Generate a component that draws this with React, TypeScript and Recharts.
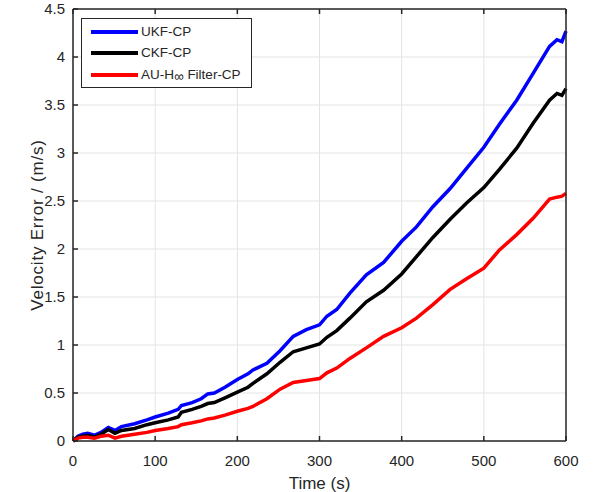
import { LineChart, Line, XAxis, YAxis, CartesianGrid, Legend, Label } from 'recharts';

// time stamps (s)
const times = [
  0, 6, 12, 18, 26, 34, 43, 51, 59, 75, 90, 100, 116, 128, 132, 145, 156, 164, 172, 185,
  200, 213, 219, 236, 252, 268, 284, 300, 309, 321, 337, 357, 378, 400, 418, 438, 459, 479,
  500, 519, 540, 560, 580, 589, 595, 600,
];

const ukfCp = [
  0, 0.05, 0.07, 0.08, 0.06, 0.09, 0.14, 0.11, 0.15, 0.18, 0.22, 0.25, 0.29, 0.33, 0.37, 0.4, 0.44, 0.49, 0.5, 0.56,
  0.64, 0.7, 0.74, 0.81, 0.94, 1.09, 1.16, 1.21, 1.3, 1.37, 1.54, 1.73, 1.86, 2.08, 2.23, 2.44, 2.63, 2.84,
  3.06, 3.3, 3.55, 3.83, 4.11, 4.18, 4.16, 4.27,
];

const ckfCp = [
  0, 0.04, 0.05, 0.06, 0.04, 0.07, 0.12, 0.08, 0.11, 0.13, 0.17, 0.19, 0.22, 0.25, 0.3, 0.33, 0.36, 0.39, 0.4, 0.45,
  0.51, 0.56, 0.6, 0.7, 0.82, 0.93, 0.97, 1.01, 1.08, 1.15, 1.28, 1.45, 1.57, 1.74, 1.92, 2.12, 2.31, 2.48,
  2.64, 2.83, 3.05, 3.31, 3.55, 3.62, 3.6, 3.67,
];

const auhCp = [
  0, 0.03, 0.04, 0.04, 0.03, 0.05, 0.06, 0.03, 0.05, 0.07, 0.09, 0.11, 0.13, 0.15, 0.17, 0.19, 0.21, 0.23, 0.24, 0.27,
  0.31, 0.34, 0.36, 0.44, 0.54, 0.61, 0.63, 0.65, 0.71, 0.76, 0.86, 0.97, 1.09, 1.18, 1.28, 1.42, 1.58, 1.69,
  1.8, 1.99, 2.15, 2.32, 2.52, 2.54, 2.55, 2.58,
];

const xTicks = [0, 100, 200, 300, 400, 500, 600];
const yTicks = [0, 0.5, 1, 1.5, 2, 2.5, 3, 3.5, 4, 4.5];

const series = [
  { key: 'ukf', name: 'UKF-CP', color: '#0000ff' },
  { key: 'ckf', name: 'CKF-CP', color: '#000000' },
  { key: 'auh', name: 'AU-H∞ Filter-CP', color: '#ff0000' },
];

const data = times.map((t, i) => ({ t, ukf: ukfCp[i], ckf: ckfCp[i], auh: auhCp[i] }));

const FONT = '"Liberation Sans", Arial, sans-serif';
const INK = '#262626';
const TICK = 5;

const BottomTick = ({ x, y, payload }: any) => (
  <g>
    <line x1={x} x2={x} y1={y - 14} y2={y - 14 - TICK} stroke={INK} strokeWidth={1.5} />
    <text x={x} y={y} dy="0.71em" textAnchor="middle" fill={INK} fontSize={15} fontFamily={FONT}>
      {payload.value}
    </text>
  </g>
);

const TopTick = ({ x, y }: any) => (
  <line x1={x} x2={x} y1={y} y2={y + TICK} stroke={INK} strokeWidth={1.5} />
);

const LeftTick = ({ x, y, payload }: any) => (
  <g>
    <line x1={x + 8} x2={x + 8 + TICK} y1={y} y2={y} stroke={INK} strokeWidth={1.5} />
    <text x={x} y={y} dy="0.35em" textAnchor="end" fill={INK} fontSize={15} fontFamily={FONT}>
      {payload.value}
    </text>
  </g>
);

const RightTick = ({ x, y }: any) => (
  <line x1={x} x2={x - TICK} y1={y} y2={y} stroke={INK} strokeWidth={1.5} />
);

const XTitle = ({ viewBox }: any) => (
  <text
    x={viewBox.x + viewBox.width / 2}
    y={viewBox.y + 48}
    textAnchor="middle"
    fill={INK}
    fontSize={17}
    fontFamily={FONT}
  >
    Time (s)
  </text>
);

const YTitle = ({ viewBox }: any) => {
  const cx = 37.5;
  const cy = viewBox.y + viewBox.height / 2;
  return (
    <text
      x={cx}
      y={cy}
      dy="0.35em"
      transform={`rotate(-90, ${cx}, ${cy})`}
      textAnchor="middle"
      fill={INK}
      fontSize={17}
      letterSpacing={0.8}
      fontFamily={FONT}
    >
      Velocity Error / (m/s)
    </text>
  );
};

const LegendBox = () => (
  <div
    style={{
      position: 'relative',
      width: 169,
      height: 68,
      background: '#fff',
      border: `1px solid ${INK}`,
      fontFamily: FONT,
      fontSize: 13.5,
      color: INK,
    }}
  >
    {series.map((s, i) => (
      <div key={s.key} style={{ position: 'absolute', left: 0, top: 13 + i * 21.3 - 8, height: 16, width: 169 }}>
        <div style={{ position: 'absolute', left: 9, top: 6, width: 47, height: 4, background: s.color }} />
        <div style={{ position: 'absolute', left: 59, top: 0, lineHeight: '16px', whiteSpace: 'nowrap' }}>
          {s.key === 'auh' ? (
            <>
              AU-H<span style={{ position: 'relative', top: 2 }}>∞</span> Filter-CP
            </>
          ) : (
            s.name
          )}
        </div>
      </div>
    ))}
  </div>
);

export default function App() {
  return (
    <div style={{ width: 596, height: 492, background: '#fff' }}>
      <style>{'body{margin:0}'}</style>
      <LineChart width={596} height={492} data={data} margin={{ top: 0, right: 0, left: 0, bottom: 0 }}>
        <CartesianGrid stroke="#e3e3e3" strokeWidth={1} />
        {series.map((s) => (
          <Line
            key={s.key}
            type="linear"
            dataKey={s.key}
            name={s.name}
            stroke={s.color}
            strokeWidth={3.5}
            dot={false}
            isAnimationActive={false}
          />
        ))}
        <XAxis
          dataKey="t"
          type="number"
          domain={[0, 600]}
          ticks={xTicks}
          height={51}
          tickSize={0}
          tickMargin={14}
          tick={BottomTick}
          axisLine={{ stroke: INK, strokeWidth: 1.5 }}
          interval={0}
        >
          <Label content={XTitle} />
        </XAxis>
        <XAxis
          xAxisId="top"
          orientation="top"
          dataKey="t"
          type="number"
          domain={[0, 600]}
          ticks={xTicks}
          height={9}
          tickSize={0}
          tickMargin={0}
          tick={TopTick}
          axisLine={{ stroke: INK, strokeWidth: 1.5 }}
          interval={0}
        />
        <YAxis
          type="number"
          domain={[0, 4.5]}
          ticks={yTicks}
          width={73}
          tickSize={0}
          tickMargin={8}
          tick={LeftTick}
          axisLine={{ stroke: INK, strokeWidth: 1.5 }}
          interval={0}
        >
          <Label content={YTitle} />
        </YAxis>
        <YAxis
          yAxisId="right"
          orientation="right"
          type="number"
          domain={[0, 4.5]}
          ticks={yTicks}
          width={30}
          tickSize={0}
          tickMargin={0}
          tick={RightTick}
          axisLine={{ stroke: INK, strokeWidth: 1.5 }}
          interval={0}
        />
        <Legend
          layout="vertical"
          align="center"
          verticalAlign="middle"
          wrapperStyle={{ left: 81, top: 18, width: 'auto', height: 'auto' }}
          content={LegendBox}
        />
      </LineChart>
    </div>
  );
}
